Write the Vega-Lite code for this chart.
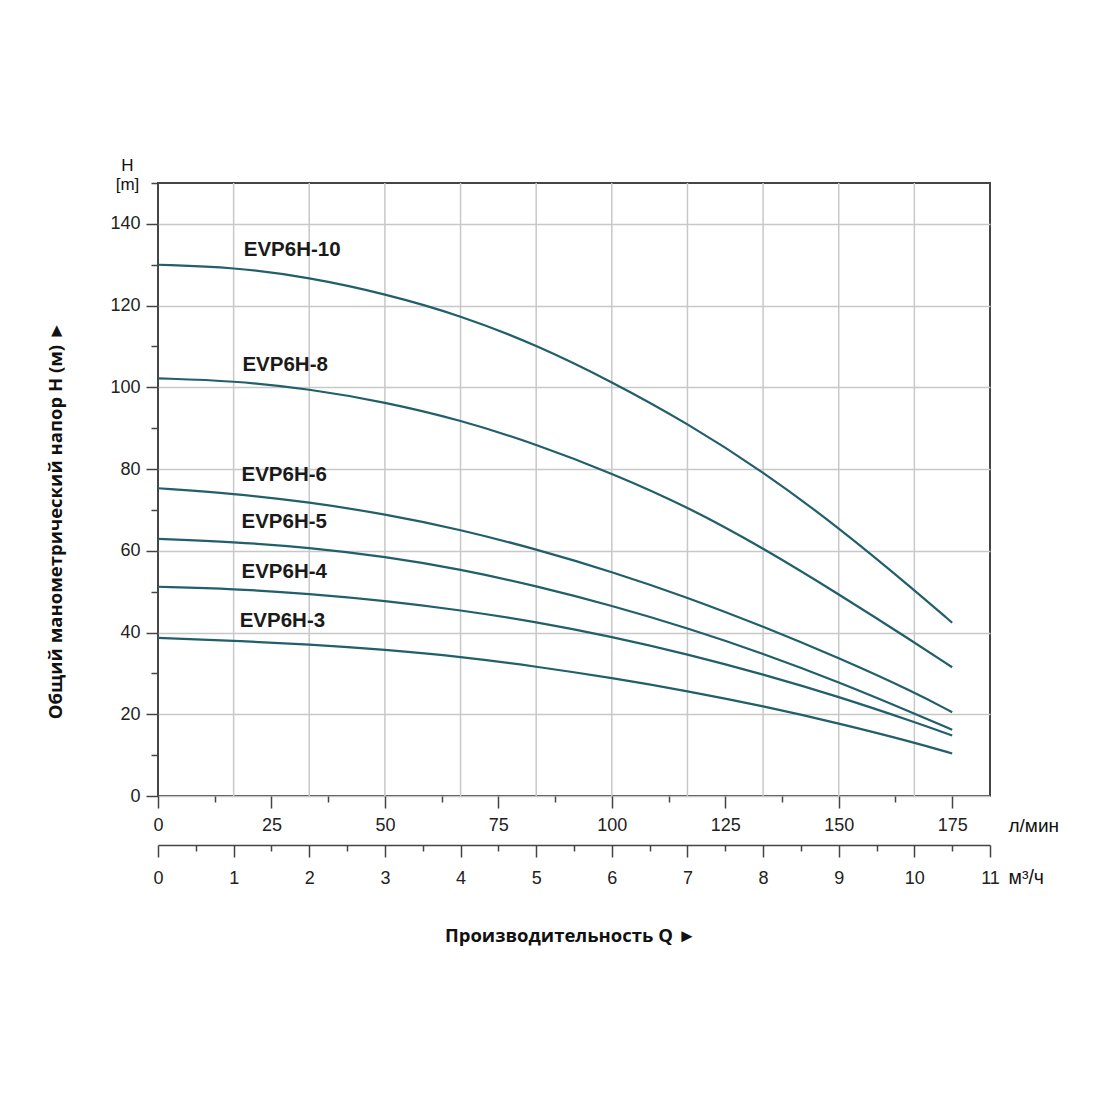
{
  "$schema": "https://vega.github.io/schema/vega-lite/v6.json",
  "width": 832,
  "height": 613,
  "autosize": "none",
  "padding": {"left": 158, "top": 183, "right": 110, "bottom": 304},
  "background": "white",
  "config": {
    "view": {"stroke": "#454545", "strokeWidth": 2},
    "axis": {
      "labelFont": "Liberation Sans",
      "labelFontSize": 18,
      "labelColor": "#222222",
      "tickColor": "#444444",
      "tickWidth": 1.5,
      "domainColor": "#444444",
      "domainWidth": 1.5,
      "gridColor": "#c8c8c8",
      "gridWidth": 1.5,
      "titleColor": "#111111"
    }
  },
  "datasets": {
    "curves": [
      {"model": "EVP6H-10", "q": 0, "h": 130},
      {"model": "EVP6H-10", "q": 16.67, "h": 129.4},
      {"model": "EVP6H-10", "q": 33.33, "h": 126.9},
      {"model": "EVP6H-10", "q": 50, "h": 122.9},
      {"model": "EVP6H-10", "q": 66.67, "h": 117.6},
      {"model": "EVP6H-10", "q": 83.33, "h": 110.4},
      {"model": "EVP6H-10", "q": 100, "h": 101.4},
      {"model": "EVP6H-10", "q": 116.67, "h": 91.2},
      {"model": "EVP6H-10", "q": 133.33, "h": 79.4},
      {"model": "EVP6H-10", "q": 150, "h": 65.7},
      {"model": "EVP6H-10", "q": 166.67, "h": 50.4},
      {"model": "EVP6H-10", "q": 175, "h": 42.4},
      {"model": "EVP6H-8", "q": 0, "h": 102.2},
      {"model": "EVP6H-8", "q": 16.67, "h": 101.6},
      {"model": "EVP6H-8", "q": 33.33, "h": 99.6},
      {"model": "EVP6H-8", "q": 50, "h": 96.4},
      {"model": "EVP6H-8", "q": 66.67, "h": 92},
      {"model": "EVP6H-8", "q": 83.33, "h": 86.1},
      {"model": "EVP6H-8", "q": 100, "h": 79},
      {"model": "EVP6H-8", "q": 116.67, "h": 70.8},
      {"model": "EVP6H-8", "q": 133.33, "h": 60.7},
      {"model": "EVP6H-8", "q": 150, "h": 49.4},
      {"model": "EVP6H-8", "q": 166.67, "h": 37.6},
      {"model": "EVP6H-8", "q": 175, "h": 31.5},
      {"model": "EVP6H-6", "q": 0, "h": 75.3},
      {"model": "EVP6H-6", "q": 16.67, "h": 74},
      {"model": "EVP6H-6", "q": 33.33, "h": 71.9},
      {"model": "EVP6H-6", "q": 50, "h": 69},
      {"model": "EVP6H-6", "q": 66.67, "h": 65.2},
      {"model": "EVP6H-6", "q": 83.33, "h": 60.4},
      {"model": "EVP6H-6", "q": 100, "h": 54.9},
      {"model": "EVP6H-6", "q": 116.67, "h": 48.6},
      {"model": "EVP6H-6", "q": 133.33, "h": 41.5},
      {"model": "EVP6H-6", "q": 150, "h": 33.8},
      {"model": "EVP6H-6", "q": 166.67, "h": 25.4},
      {"model": "EVP6H-6", "q": 175, "h": 20.5},
      {"model": "EVP6H-5", "q": 0, "h": 62.9},
      {"model": "EVP6H-5", "q": 16.67, "h": 62.2},
      {"model": "EVP6H-5", "q": 33.33, "h": 60.8},
      {"model": "EVP6H-5", "q": 50, "h": 58.6},
      {"model": "EVP6H-5", "q": 66.67, "h": 55.5},
      {"model": "EVP6H-5", "q": 83.33, "h": 51.4},
      {"model": "EVP6H-5", "q": 100, "h": 46.6},
      {"model": "EVP6H-5", "q": 116.67, "h": 41.1},
      {"model": "EVP6H-5", "q": 133.33, "h": 34.9},
      {"model": "EVP6H-5", "q": 150, "h": 27.9},
      {"model": "EVP6H-5", "q": 166.67, "h": 20.2},
      {"model": "EVP6H-5", "q": 175, "h": 16.2},
      {"model": "EVP6H-4", "q": 0, "h": 51.2},
      {"model": "EVP6H-4", "q": 16.67, "h": 50.7},
      {"model": "EVP6H-4", "q": 33.33, "h": 49.5},
      {"model": "EVP6H-4", "q": 50, "h": 47.8},
      {"model": "EVP6H-4", "q": 66.67, "h": 45.5},
      {"model": "EVP6H-4", "q": 83.33, "h": 42.6},
      {"model": "EVP6H-4", "q": 100, "h": 39},
      {"model": "EVP6H-4", "q": 116.67, "h": 34.7},
      {"model": "EVP6H-4", "q": 133.33, "h": 29.8},
      {"model": "EVP6H-4", "q": 150, "h": 24.3},
      {"model": "EVP6H-4", "q": 166.67, "h": 18.1},
      {"model": "EVP6H-4", "q": 175, "h": 14.8},
      {"model": "EVP6H-3", "q": 0, "h": 38.7},
      {"model": "EVP6H-3", "q": 16.67, "h": 38},
      {"model": "EVP6H-3", "q": 33.33, "h": 37.1},
      {"model": "EVP6H-3", "q": 50, "h": 35.8},
      {"model": "EVP6H-3", "q": 66.67, "h": 34.1},
      {"model": "EVP6H-3", "q": 83.33, "h": 31.7},
      {"model": "EVP6H-3", "q": 100, "h": 28.9},
      {"model": "EVP6H-3", "q": 116.67, "h": 25.7},
      {"model": "EVP6H-3", "q": 133.33, "h": 22},
      {"model": "EVP6H-3", "q": 150, "h": 17.8},
      {"model": "EVP6H-3", "q": 166.67, "h": 13.1},
      {"model": "EVP6H-3", "q": 175, "h": 10.4}
    ],
    "labels": [
      {"model": "EVP6H-10", "q": 18.9, "h": 133.5},
      {"model": "EVP6H-8", "q": 18.6, "h": 105.5},
      {"model": "EVP6H-6", "q": 18.4, "h": 78.6},
      {"model": "EVP6H-5", "q": 18.4, "h": 67},
      {"model": "EVP6H-4", "q": 18.4, "h": 54.7},
      {"model": "EVP6H-3", "q": 18.0, "h": 42.7}
    ],
    "flowGrid": [
      {"m3h": 1}, {"m3h": 2}, {"m3h": 3}, {"m3h": 4}, {"m3h": 5},
      {"m3h": 6}, {"m3h": 7}, {"m3h": 8}, {"m3h": 9}, {"m3h": 10}
    ]
  },
  "layer": [
    {
      "data": {"name": "flowGrid"},
      "mark": {"type": "rule", "color": "#c8c8c8", "strokeWidth": 1.5},
      "encoding": {
        "x": {
          "field": "m3h",
          "type": "quantitative",
          "scale": {"domain": [0, 11], "nice": false, "zero": false},
          "axis": {
            "orient": "bottom",
            "offset": 49,
            "values": [0, 1, 2, 3, 4, 5, 6, 7, 8, 9, 10, 11],
            "tickSize": 12,
            "labelPadding": 12,
            "labelFlush": false,
            "grid": false,
            "title": "м³/ч",
            "titleFont": "Liberation Sans",
            "titleFontSize": 19.5,
            "titleFontWeight": "normal",
            "titleAngle": 0,
            "titleAlign": "left",
            "titleBaseline": "middle",
            "titleX": 850,
            "titleY": 32
          }
        }
      }
    },
    {
      "data": {"name": "flowGrid"},
      "mark": {"type": "rule", "strokeOpacity": 0},
      "encoding": {
        "x": {
          "field": "m3h",
          "type": "quantitative",
          "scale": {"domain": [0, 11], "nice": false, "zero": false},
          "axis": {
            "orient": "bottom",
            "offset": 49,
            "values": [0.5, 1.5, 2.5, 3.5, 4.5, 5.5, 6.5, 7.5, 8.5, 9.5, 10.5],
            "tickSize": 6,
            "labels": false,
            "domain": false,
            "grid": false,
            "title": null
          }
        }
      }
    },
    {
      "data": {"name": "curves"},
      "mark": {"type": "line", "color": "#215f6a", "strokeWidth": 2.2, "interpolate": "basis"},
      "encoding": {
        "x": {
          "field": "q",
          "type": "quantitative",
          "scale": {"domain": [0, 183.333], "nice": false, "zero": false},
          "axis": {
            "orient": "bottom",
            "values": [0, 25, 50, 75, 100, 125, 150, 175],
            "tickSize": 12,
            "labelPadding": 8,
            "labelFlush": false,
            "domain": false,
            "grid": false,
            "title": "л/мин",
            "titleFont": "Liberation Sans",
            "titleFontSize": 19,
            "titleFontWeight": "normal",
            "titleAngle": 0,
            "titleAlign": "left",
            "titleBaseline": "middle",
            "titleX": 850,
            "titleY": 29
          }
        },
        "y": {
          "field": "h",
          "type": "quantitative",
          "scale": {"domain": [0, 150], "nice": false},
          "axis": {
            "orient": "left",
            "values": [0, 20, 40, 60, 80, 100, 120, 140],
            "tickSize": 12,
            "labelPadding": 6,
            "labelFlush": false,
            "domain": false,
            "grid": true,
            "title": "Общий манометрический напор H (м)  ►",
            "titleFont": "Open Sans",
            "titleFontSize": 18.5,
            "titleFontWeight": "bold",
            "titleAngle": -90,
            "titleAlign": "center",
            "titleBaseline": "middle",
            "titleX": -103,
            "titleY": 337
          }
        },
        "detail": {"field": "model"}
      }
    },
    {
      "data": {"name": "labels"},
      "mark": {"type": "text", "align": "left", "baseline": "middle", "font": "Liberation Sans", "fontSize": 20.5, "fontWeight": "bold", "color": "#1a1a1a"},
      "encoding": {
        "x": {
          "field": "q",
          "type": "quantitative",
          "scale": {"domain": [0, 183.333], "nice": false, "zero": false},
          "axis": {
            "orient": "bottom",
            "values": [12.5, 37.5, 62.5, 87.5, 112.5, 137.5, 162.5],
            "tickSize": 6,
            "labels": false,
            "domain": false,
            "grid": false,
            "title": "Производительность Q  ►",
            "titleFont": "Open Sans",
            "titleFontSize": 18.5,
            "titleFontWeight": "bold",
            "titleAlign": "center",
            "titleBaseline": "middle",
            "titleX": 412,
            "titleY": 139
          }
        },
        "y": {
          "field": "h",
          "type": "quantitative",
          "scale": {"domain": [0, 150], "nice": false},
          "axis": {
            "orient": "left",
            "values": [10, 30, 50, 70, 90, 110, 130, 150],
            "tickSize": 7,
            "labels": false,
            "domain": false,
            "grid": false,
            "title": ["H", "[m]"],
            "titleFont": "Liberation Sans",
            "titleFontSize": 17,
            "titleFontWeight": "normal",
            "titleAngle": 0,
            "titleAlign": "center",
            "titleBaseline": "middle",
            "titleLineHeight": 19,
            "titleX": -31,
            "titleY": -18
          }
        },
        "text": {"field": "model"}
      }
    }
  ],
  "resolve": {
    "scale": {"x": "independent"},
    "axis": {"x": "independent", "y": "independent"}
  }
}
